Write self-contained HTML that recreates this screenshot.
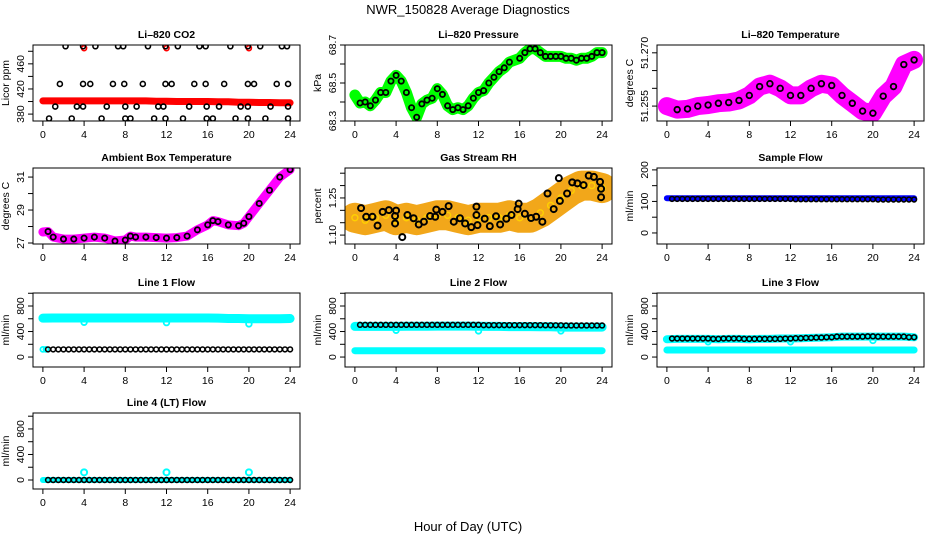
<!DOCTYPE html>
<html><head><meta charset="utf-8"><style>
html,body{margin:0;padding:0;background:#fff;}
svg{display:block;font-family:"Liberation Sans",sans-serif;}
</style></head><body>
<svg id="chart" width="936" height="540" viewBox="0 0 936 540" xmlns="http://www.w3.org/2000/svg">
<rect x="0" y="0" width="936" height="540" fill="#fff"/>
<text x="468" y="14" text-anchor="middle" font-size="13">NWR_150828  Average Diagnostics</text>
<text x="468" y="531" text-anchor="middle" font-size="13">Hour of Day (UTC)</text>
</svg>
<script>
// ---------- data ----------
const xTicks = [0,4,8,12,16,20,24];
// CO2
const co2Red = [401,401,401,401,401,401,401,401,401,401,401,400.5,400.5,400,400,400,400,399.5,399.5,399,399,398.5,398.5,398,398];
const co2RedOutH = [4,12,20];
const co2RedOutV = [485,485,485];
const co2BlackH = [2.2,3.9,5.1,7.3,7.8,10.2,11.9,13.1,15.2,15.8,18.2,19.9,21.1,23.2,23.7,
 1.65,3.9,4.6,6.8,7.9,9.7,11.9,12.5,14.7,15.8,17.6,19.9,20.5,22.7,23.8,
 1.2,3.3,3.9,6.2,8.0,9.1,11.2,11.7,14.2,15.9,17.1,19.2,19.9,22.1,23.8,
 0.6,2.8,5.7,8.0,8.5,10.8,11.9,13.6,15.9,16.5,18.7,19.9,21.6,23.8];
const co2BlackV = [488,488,488,488,488,488,488,488,488,488,488,488,488,488,488,
 428,428,428,428,428,428,428,428,428,428,428,428,428,428,428,
 392,392,392,392,392,392,392,392,392,392,392,392,392,392,392,
 373,373,373,373,373,373,373,373,373,373,373,373,373,373];
// Pressure
const presH = [0,0.5,1,1.5,2,2.5,3,3.5,4,4.5,5,5.5,6,6.5,7,7.5,8,8.5,9,9.5,10,10.5,11,11.5,12,12.5,13,13.5,14,14.5,15,16,16.5,17,17.5,18,18.5,19,19.5,20,20.5,21,21.5,22,22.5,23,23.5,24];
const presV = [68.437,68.395,68.40,68.38,68.41,68.45,68.45,68.51,68.54,68.51,68.45,68.37,68.32,68.39,68.41,68.42,68.47,68.44,68.38,68.36,68.37,68.36,68.38,68.42,68.45,68.46,68.50,68.53,68.56,68.58,68.61,68.63,68.66,68.68,68.68,68.66,68.64,68.64,68.64,68.64,68.63,68.63,68.62,68.63,68.63,68.64,68.66,68.66];
// Li-820 temperature (hourly)
const tempV = [51.2550,51.2540,51.2542,51.2550,51.2553,51.2558,51.2560,51.2566,51.2580,51.2605,51.2613,51.2600,51.2580,51.2580,51.2600,51.2613,51.2608,51.2580,51.2558,51.2536,51.2530,51.2578,51.2605,51.2667,51.2680];
// Ambient box temperature
const ambH = [0,0.5,1,2,3,4,5,6,7,8,8.5,9,10,11,12,13,14,15,16,16.5,17,18,19,19.5,20,21,22,23,24];
const ambV = [27.67,27.7,27.36,27.24,27.24,27.3,27.36,27.3,27.12,27.18,27.42,27.36,27.36,27.33,27.3,27.33,27.42,27.8,28.1,28.36,28.3,28.1,28.05,28.2,28.6,29.4,30.2,31.0,31.45];
// Gas stream RH
const rhV = [1.17,1.16,1.17,1.18,1.16,1.17,1.16,1.17,1.18,1.18,1.17,1.16,1.17,1.17,1.17,1.18,1.17,1.17,1.19,1.22,1.25,1.28,1.30,1.30,1.29];
const rhBlackH = [0.6,1.1,1.7,2.2,2.7,3.3,3.9,3.9,4.0,4.6,5.1,5.7,6.2,6.7,7.3,7.8,7.9,8.5,9.1,9.6,10.2,10.7,11.3,11.8,11.8,11.9,12.6,13.1,13.7,14.1,14.7,15.2,15.8,15.9,16.5,17.1,17.6,18.2,18.7,19.3,19.8,19.9,20.6,21.1,21.6,22.2,22.7,23.2,23.8,23.9,23.9];
const rhBlackV = [1.209,1.174,1.174,1.138,1.194,1.201,1.177,1.147,1.199,1.092,1.181,1.168,1.143,1.154,1.177,1.174,1.203,1.194,1.217,1.154,1.168,1.147,1.132,1.215,1.181,1.140,1.166,1.136,1.176,1.143,1.166,1.181,1.205,1.227,1.186,1.169,1.174,1.154,1.268,1.205,1.330,1.238,1.268,1.313,1.309,1.302,1.340,1.335,1.315,1.287,1.253];
// Flows
const sampleBlue = [110,110,110,110,110,110,110,110,110,110,110,110,110,110,110,110,110,110,110,110,110,110,110,110,110];
const sampleBlack = [108,108,108,108,108,108,108,108,108,108,108,108,108,108,108,108,108,108,108,108,108,108,108,108,107,107,107,107,107,107,107,107,107,107,107,107,107,107,107,107,106,106,106,106,106,106,106,106];
const line1Cyan = [610,612,612,612,612,612,612,612,612,612,612,612,612,612,612,612,612,610,605,605,600,600,600,600,605];
const line1CyanLow = [120,120];
const line1Black = [120,120,120,120,120,120,120,120,120,120,120,120,120,120,120,120,120,120,120,120,120,120,120,120,120,120,120,120,120,120,120,120,120,120,120,120,120,120,120,120,120,120,120,120,120,120,120,120];
const line2Cyan = [480,480,480,480,480,482,482,482,485,485,485,485,482,480,480,478,478,478,475,475,470,470,470,470,470];
const line2CyanLow = [100,100,100,100,100,100,100,100,100,100,100,100,100,100,100,100,100,100,100,100,100,100,100,100,100];
const line2Black = [505,505,505,505,505,505,505,505,505,505,505,505,505,505,505,505,505,505,505,505,505,505,505,505,500,500,500,500,500,500,500,500,500,500,500,500,498,498,498,498,495,495,495,495,495,495,495,495];
const line3Cyan = [280,285,285,285,285,280,285,285,280,285,285,290,290,295,300,305,310,320,320,320,320,320,320,320,310];
const line3CyanLow = [110,110,110,110,110,110,110,110,110,110,110,110,110,110,110,110,110,110,110,110,110,110,110,110,110];
const line3Black = [290,290,290,290,290,290,290,290,285,285,290,290,290,290,285,285,285,285,285,285,285,285,290,290,295,295,300,300,305,305,310,310,320,320,320,320,320,320,325,325,320,320,320,320,320,320,310,310];
const line4Cyan = [0,0,0,0,0,0,0,0,0,0,0,0,0,0,0,0,0,0,0,0,0,0,0,0,0];
const line4Black = [0,0,0,0,0,0,0,0,0,0,0,0,0,0,0,0,0,0,0,0,0,0,0,0,0,0,0,0,0,0,0,0,0,0,0,0,0,0,0,0,0,0,0,0,0,0,0,0];
const outH = [4,12,20];
const line1Out = [545,540,520];
const line2Out = [420,410,410];
const line3Out = [240,240,260];
const line4Out = [120,120,120];

// ---------- rendering ----------
const NS = "http://www.w3.org/2000/svg";
const svg = document.getElementById('chart');
function mk(tag, attrs, parent){
  const e = document.createElementNS(NS, tag);
  for (const k in attrs) e.setAttribute(k, attrs[k]);
  (parent||svg).appendChild(e);
  return e;
}
const COLS = [[33,300],[345,612],[657,924]];
const ROWS = [[45,121],[168,244],[293,367],[413,489]];
function panel(name, title, ylab, col, row, ymin, ymax, ticks, labels){
  const [x0,x1] = COLS[col], [y0,y1] = ROWS[row];
  const g = mk('g', {});
  
  
  const xs = h => x0 + (h + 0.96) / 25.92 * (x1 - x0);
  const ys = v => y1 - (v - ymin) / (ymax - ymin) * (y1 - y0);
  const clipId = 'clip-' + name;
  const cp = mk('clipPath', {id: clipId}, g);
  mk('rect', {x:x0, y:y0, width:x1-x0, height:y1-y0}, cp);
  const plot = mk('g', {'clip-path':'url(#'+clipId+')'}, g);
  
  
  const t = mk('text', {x:(x0+x1)/2, y:y0-7, 'text-anchor':'middle', 'font-size':10.5, 'font-weight':'bold'}, g);
  t.textContent = title;
  
  
  const yl = mk('text', {x:0, y:0, 'text-anchor':'middle', 'font-size':10.5, transform:'translate('+(x0-24)+','+((y0+y1)/2)+') rotate(-90)'}, g);
  yl.textContent = ylab;
  
  
  mk('rect', {x:x0, y:y0, width:x1-x0, height:y1-y0, fill:'none', stroke:'#000', 'stroke-width':1}, g);
  xTicks.forEach(h => {
    mk('line', {x1:xs(h), x2:xs(h), y1:y1, y2:y1+5, stroke:'#000'}, g);
    const tl = mk('text', {x:xs(h), y:y1+17, 'text-anchor':'middle', 'font-size':10.5}, g);
    tl.textContent = h;
    
    
  });
  ticks.forEach(v => {
    mk('line', {x1:x0, x2:x0-5, y1:ys(v), y2:ys(v), stroke:'#000'}, g);
  });
  labels.forEach(v => {
    const tl = mk('text', {x:0, y:0, 'text-anchor':'middle', 'font-size':10.5, transform:'translate('+(x0-9)+','+ys(v)+') rotate(-90)'}, g);
    tl.textContent = String(v);
    
    
  });
  return {plot, xs, ys};
}
function band(p, hs, vs, color, w){
  const pts = hs.map((h,i) => p.xs(h).toFixed(1) + ',' + p.ys(vs[i]).toFixed(1)).join(' ');
  const l = mk('polyline', {points:pts, fill:'none', stroke:color, 'stroke-width':w, 'stroke-linejoin':'round', 'stroke-linecap':'round'}, p.plot);
  
  
}
function dots(p, hs, vs, color, r, sw){
  hs.forEach((h,i) => {
    const c = mk('circle', {cx:p.xs(h), cy:p.ys(vs[i]), r:r||2.5, fill:'none', stroke:color, 'stroke-width':sw||1.6}, p.plot);
    
    
  });
}
const hourly = Array.from({length:25}, (_, i) => i);
const halfH = Array.from({length:48}, (_, i) => 0.5 + i * 0.5);

let p = panel('co2-panel', 'Li\u2013820 CO2', 'Licor ppm', 0, 0, 369, 490, [380,400,420,440,460,480], [380,420,460]);
band(p, hourly, co2Red, '#ff0000', 7);
dots(p, co2RedOutH, co2RedOutV, '#ff0000');
dots(p, co2BlackH, co2BlackV, '#000');

p = panel('pressure-panel', 'Li\u2013820 Pressure', 'kPa', 1, 0, 68.3, 68.7, [68.3,68.4,68.5,68.6,68.7], ['68.3','68.5','68.7']);
band(p, presH, presV, '#00ff00', 11);
dots(p, presH, presV, '#00ff00', 2.5, 1.5);
dots(p, presH.slice(1), presV.slice(1), '#000', 2.6, 1.8);

p = panel('li820-temp-panel', 'Li\u2013820 Temperature', 'degrees C', 2, 0, 51.2508, 51.2722, [51.255,51.26,51.265,51.27], ['51.255','51.270']);
band(p, hourly, tempV, '#ff00ff', 18);
dots(p, hourly, tempV, '#ff00ff', 3, 1.6);
dots(p, hourly.slice(1), tempV.slice(1), '#000', 2.8, 1.8);

p = panel('ambient-temp-panel', 'Ambient Box Temperature', 'degrees C', 0, 1, 26.94, 31.55, [27,28,29,30,31], [27,29,31]);
band(p, ambH, ambV, '#ff00ff', 9);
dots(p, ambH.slice(1), ambV.slice(1), '#000', 2.6, 1.8);

p = panel('rh-panel', 'Gas Stream RH', 'percent', 1, 1, 1.064, 1.371, [1.10,1.15,1.20,1.25,1.30,1.35], ['1.10','1.25']);
band(p, hourly, rhV, '#f2a71a', 30);
dots(p, hourly, rhV, '#ffd000', 3, 1.4);
dots(p, rhBlackH, rhBlackV, '#000', 3, 2);

p = panel('sample-flow-panel', 'Sample Flow', 'ml/min', 2, 1, -35, 206, [0,50,100,150,200], [0,100,200]);
band(p, hourly, sampleBlue, '#0000ff', 6);
dots(p, halfH, sampleBlack, '#000', 2.4, 1.6);

p = panel('line1-flow-panel', 'Line 1 Flow', 'ml/min', 0, 2, -156, 1004, [0,200,400,600,800,1000], [0,400,800]);
band(p, hourly, line1Cyan, '#00ffff', 9);
dots(p, [0,0.3], line1CyanLow, '#00ffff', 2.5, 1.8);
dots(p, outH, line1Out, '#00ffff', 2.8, 1.8);
dots(p, halfH, line1Black, '#000', 2.4, 1.6);

p = panel('line2-flow-panel', 'Line 2 Flow', 'ml/min', 1, 2, -156, 1004, [0,200,400,600,800,1000], [0,400,800]);
band(p, hourly, line2Cyan, '#00ffff', 9);
band(p, hourly, line2CyanLow, '#00ffff', 7);
dots(p, outH, line2Out, '#00ffff', 2.8, 1.8);
dots(p, halfH, line2Black, '#000', 2.4, 1.6);

p = panel('line3-flow-panel', 'Line 3 Flow', 'ml/min', 2, 2, -156, 1004, [0,200,400,600,800,1000], [0,400,800]);
band(p, hourly, line3Cyan, '#00ffff', 8);
band(p, hourly, line3CyanLow, '#00ffff', 7);
dots(p, outH, line3Out, '#00ffff', 2.8, 1.8);
dots(p, halfH, line3Black, '#000', 2.4, 1.6);

p = panel('line4-flow-panel', 'Line 4 (LT) Flow', 'ml/min', 0, 3, -141, 1050, [0,200,400,600,800,1000], [0,400,800]);
band(p, hourly, line4Cyan, '#00ffff', 6);
dots(p, outH, line4Out, '#00ffff', 3, 2);
dots(p, halfH, line4Black, '#000', 2.4, 1.6);
</script>
</body></html>
